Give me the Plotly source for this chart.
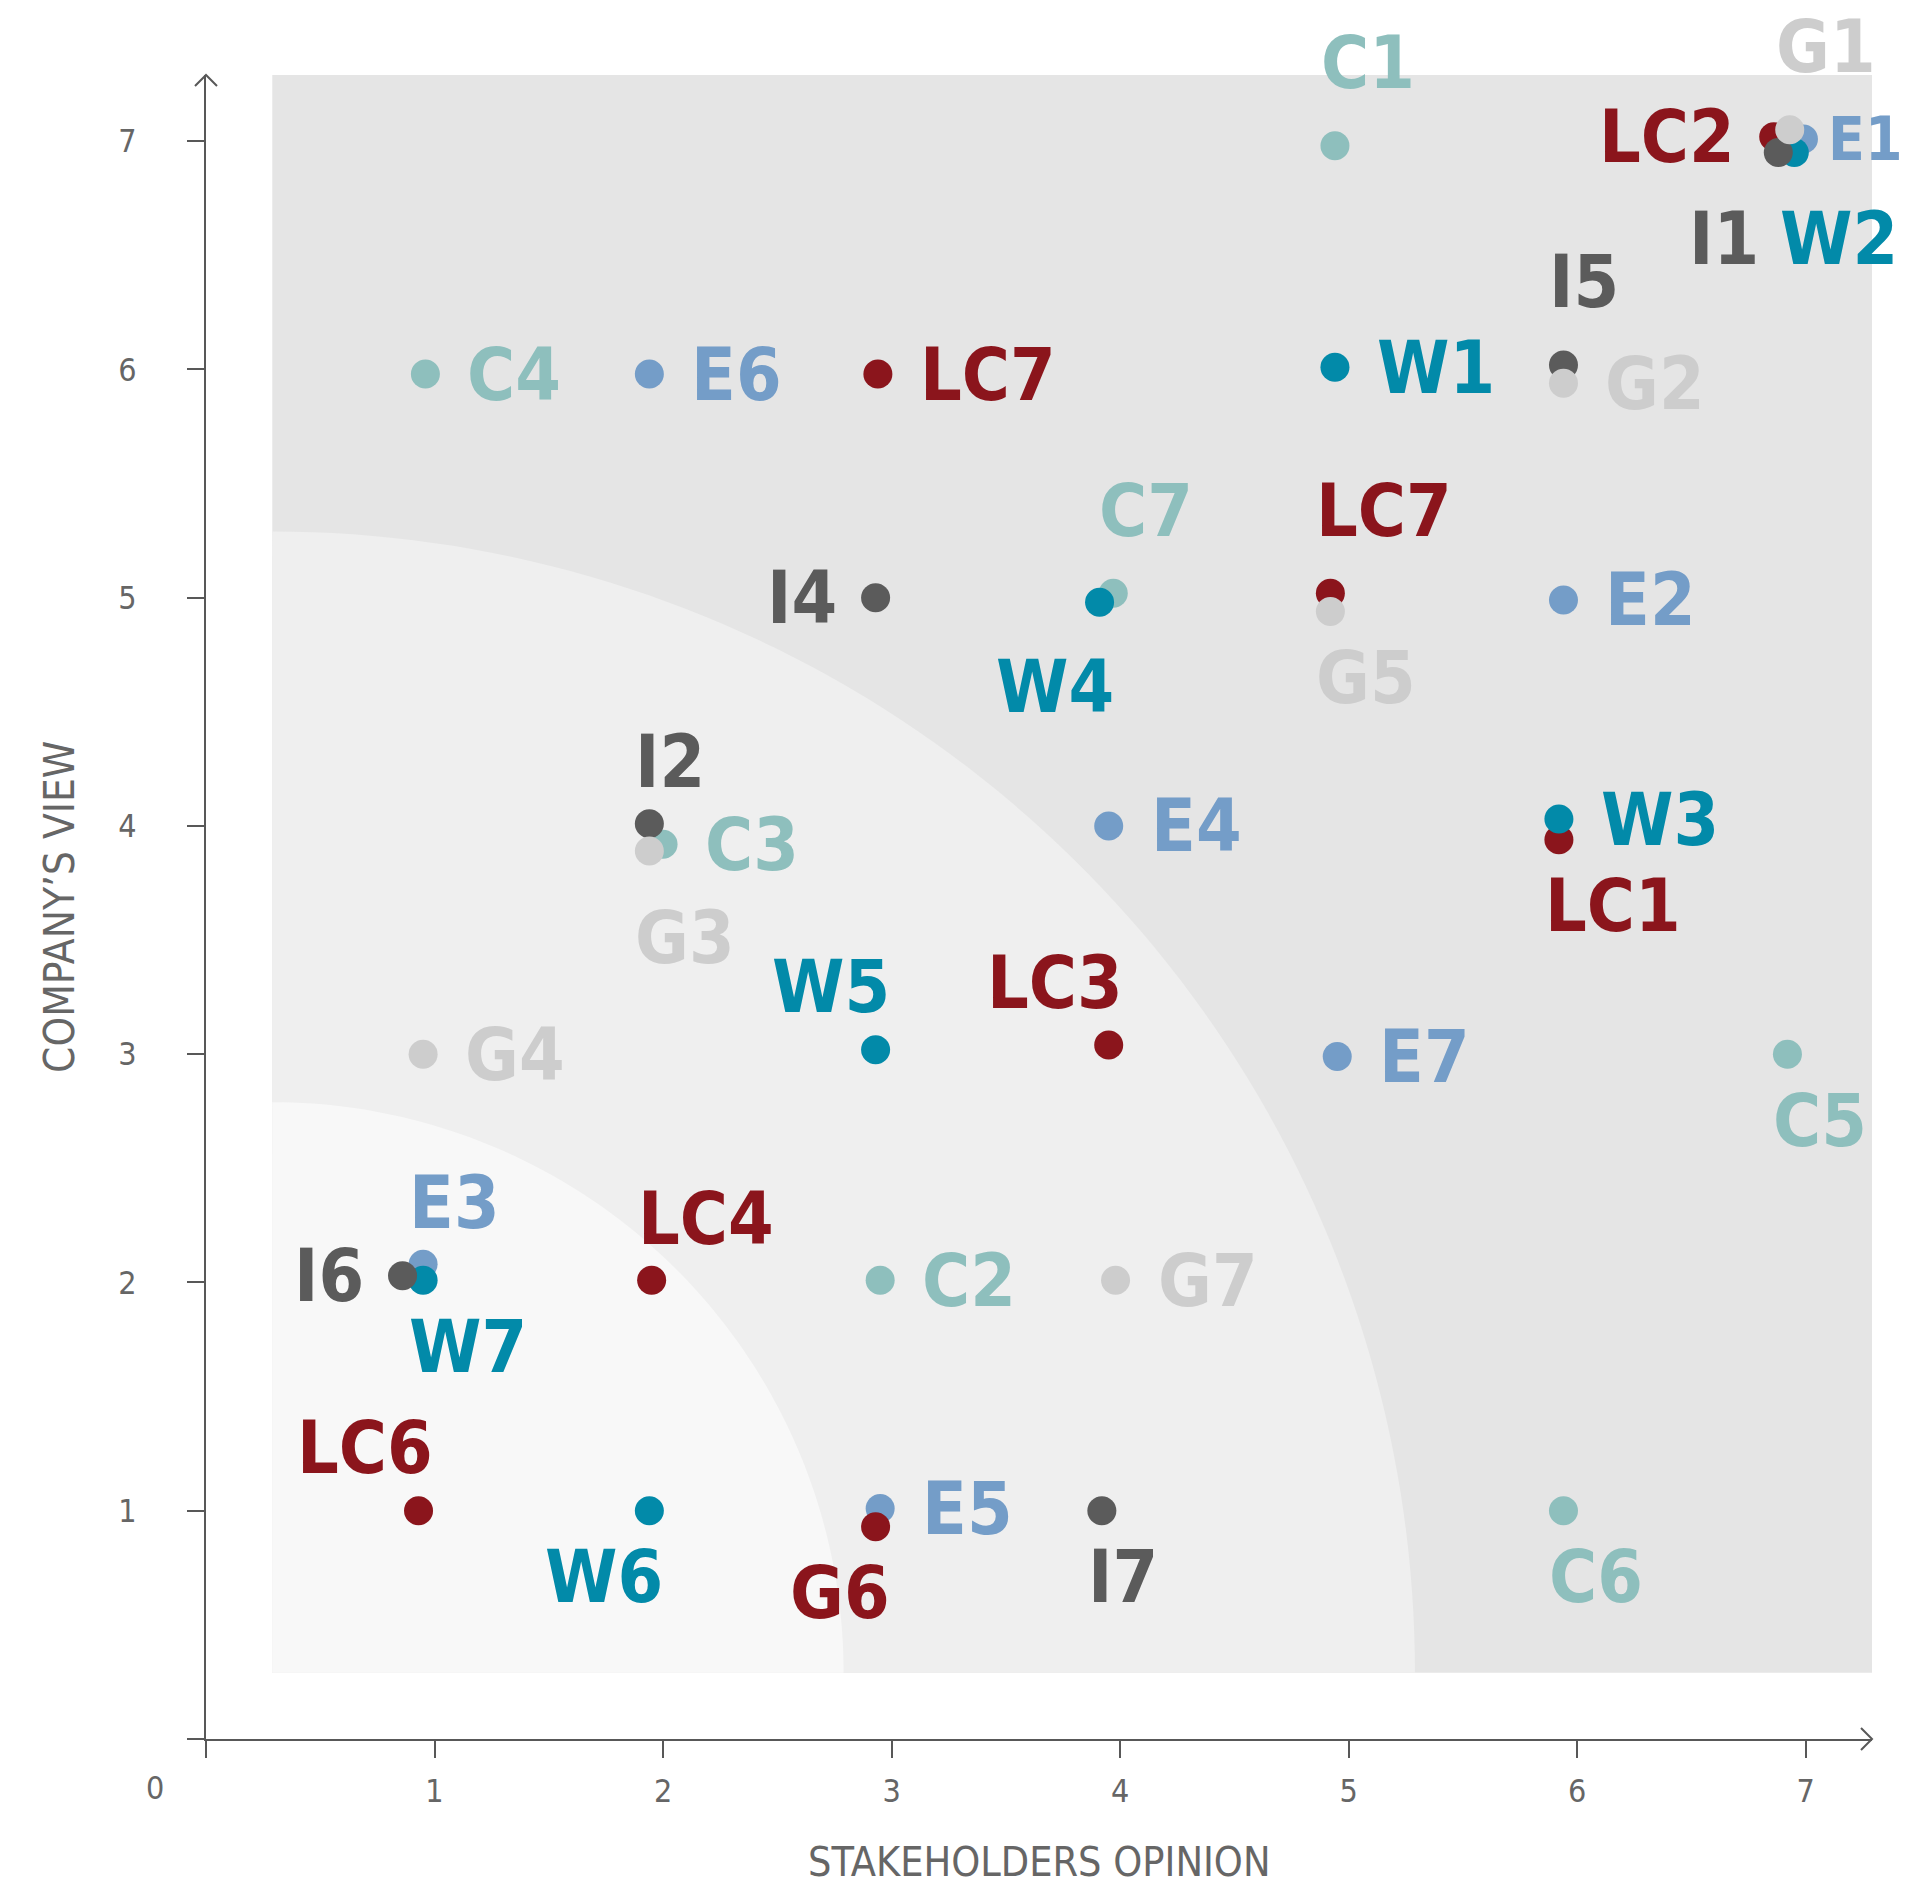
import numpy as np
import plotly.graph_objects as go

# ---------------- data ----------------
C_LABELS = ["C1", "C2", "C3", "C4", "C5", "C6", "C7"]
C_X = [4.94, 2.95, 2.00, 0.96, 6.92, 5.94, 3.97]
C_Y = [6.98, 2.01, 3.92, 5.98, 3.00, 1.00, 5.02]

E_LABELS = ["E1", "E2", "E3", "E4", "E5", "E6", "E7"]
E_X = [6.99, 5.94, 0.95, 3.95, 2.95, 1.94, 4.95]
E_Y = [7.01, 4.99, 2.08, 4.00, 1.01, 5.98, 2.99]

LC_LABELS = ["LC1", "LC2", "LC3", "LC4", "LC6", "LC7", "LC7", "G6"]
LC_X = [5.92, 6.86, 3.95, 1.95, 0.93, 2.94, 4.92, 2.93]
LC_Y = [3.94, 7.02, 3.04, 2.01, 1.00, 5.98, 5.02, 0.93]

W_LABELS = ["W1", "W2", "W3", "W4", "W5", "W6", "W7"]
W_X = [4.94, 6.95, 5.92, 3.91, 2.93, 1.94, 0.95]
W_Y = [6.01, 6.95, 4.03, 4.98, 3.02, 1.00, 2.01]

I_LABELS = ["I1", "I2", "I4", "I5", "I6", "I7"]
I_X = [6.88, 1.94, 2.93, 5.94, 0.86, 3.92]
I_Y = [6.95, 4.01, 5.00, 6.02, 2.03, 1.00]

G_LABELS = ["G1", "G2", "G3", "G4", "G5", "G7"]
G_X = [6.93, 5.94, 1.94, 0.95, 4.92, 3.98]
G_Y = [7.05, 5.94, 3.89, 3.00, 4.94, 2.01]

TICK_VALUES = [0, 1, 2, 3, 4, 5, 6, 7]
TICK_LABELS = ["", "1", "2", "3", "4", "5", "6", "7"]
X_TITLE = "STAKEHOLDERS OPINION"
Y_TITLE = "COMPANY\u2019S VIEW"
ORIGIN_LABEL = "0"

# ---------------- styling ----------------
C_POS = ["AH", "R", "R", "R", "B", "B", "AH"]
E_POS = ["RE", "R", "A", "R", "R", "R", "R"]
LC_POS = ["B", "L", "AR", "A", "AR", "R", "AH", "BR"]
W_POS = ["R", "BH", "R", "BRH", "AR", "BR", "B"]
I_POS = ["BLH", "A", "L", "AH", "L", "B"]
G_POS = ["AH", "R", "BH", "R", "B", "R"]

# placement code -> (xanchor, xshift px, yshift px, font size)
PLACE = {
    "R": ("left", 40, 0, 73),
    "RE": ("left", 23, 0, 60),   # right edge of the page
    "L": ("right", -37, 0, 73),
    "A": ("left", -16, 62, 73),
    "AH": ("left", -16, 83, 73),
    "AR": ("right", 16, 63, 73),
    "B": ("left", -16, -66, 73),
    "BH": ("left", -16, -86, 73),
    "BR": ("right", 16, -66, 73),
    "BRH": ("right", 16, -84, 73),
    "BLH": ("right", -17, -86, 73),
}

SERIES = [  # drawing order (bottom -> top)
    (C_LABELS, C_X, C_Y, C_POS, "#8ebfbd"),
    (E_LABELS, E_X, E_Y, E_POS, "#749dc8"),
    (LC_LABELS, LC_X, LC_Y, LC_POS, "#8b151c"),
    (W_LABELS, W_X, W_Y, W_POS, "#028aa9"),
    (I_LABELS, I_X, I_Y, I_POS, "#5b5b5b"),
    (G_LABELS, G_X, G_Y, G_POS, "#cdcdcd"),
]

AX_MAX = 7.29
ZONE_ORIGIN = 0.29
ZONE_RADII = [5.0, 2.5]
ZONE_COLORS = ["#efefef", "#f8f8f8"]
BG_COLOR = "#e5e5e5"
AXIS_COLOR = "#585858"
TEXT_COLOR = "#666666"
NARROW = "Liberation Sans Narrow, Arial Narrow, DejaVu Sans Condensed, sans-serif"

fig = go.Figure()

for labels, xs, ys, pos, color in SERIES:
    fig.add_trace(go.Scatter(
        x=xs, y=ys, mode="markers",
        marker=dict(size=29, color=color, line=dict(width=0)),
        cliponaxis=False, hoverinfo="skip", showlegend=False,
    ))

annotations = []
for labels, xs, ys, pos, color in SERIES:
    for lab, x, y, p in zip(labels, xs, ys, pos):
        xa, dx, dy, fs = PLACE[p]
        annotations.append(dict(
            x=x, y=y, xref="x", yref="y", text=lab, showarrow=False,
            xanchor=xa, yanchor="middle", xshift=dx, yshift=dy,
            font=dict(family=NARROW, size=fs, color=color, weight="bold"),
        ))

annotations += [
    dict(x=0, y=0, xref="x", yref="y", text=ORIGIN_LABEL, showarrow=False,
         xanchor="center", yanchor="middle", xshift=-51, yshift=-49,
         font=dict(family=NARROW, size=32, color=TEXT_COLOR)),
    dict(x=0.5, y=0, xref="paper", yref="paper", text=X_TITLE, showarrow=False,
         xanchor="center", yanchor="middle", yshift=-123,
         font=dict(family=NARROW, size=41, color=TEXT_COLOR)),
    dict(x=0, y=0.5, xref="paper", yref="paper", text=Y_TITLE, showarrow=False,
         xanchor="center", yanchor="middle", xshift=-147, textangle=-90,
         font=dict(family=NARROW, size=42, color=TEXT_COLOR)),
]

shapes = [dict(type="rect", xref="x", yref="y", x0=ZONE_ORIGIN, y0=ZONE_ORIGIN,
               x1=AX_MAX, y1=AX_MAX, fillcolor=BG_COLOR, line=dict(width=0),
               layer="below")]
ang = np.linspace(0, np.pi / 2, 90)
for r, col in zip(ZONE_RADII, ZONE_COLORS):
    pts = [(ZONE_ORIGIN, ZONE_ORIGIN)] + [
        (ZONE_ORIGIN + r * np.cos(a), ZONE_ORIGIN + r * np.sin(a)) for a in ang]
    path = "M " + " L ".join(f"{px:.4f},{py:.4f}" for px, py in pts) + " Z"
    shapes.append(dict(type="path", xref="x", yref="y", path=path,
                       fillcolor=col, line=dict(width=0), layer="below"))

# arrow heads (open chevrons) at the ends of the axes (paper refs: not clipped)
shapes.append(dict(type="path", xref="paper", yref="paper", xsizemode="pixel",
                   ysizemode="pixel", xanchor=1, yanchor=0,
                   path="M -11,11 L 0,0 L -11,-11",
                   line=dict(color=AXIS_COLOR, width=2)))
shapes.append(dict(type="path", xref="paper", yref="paper", xsizemode="pixel",
                   ysizemode="pixel", xanchor=0, yanchor=1,
                   path="M -11,-11 L 0,0 L 11,-11",
                   line=dict(color=AXIS_COLOR, width=2)))

axis_common = dict(
    range=[0, AX_MAX], showgrid=False, zeroline=False, showline=True,
    linecolor=AXIS_COLOR, linewidth=2, ticks="outside", ticklen=17,
    tickwidth=2, tickcolor=AXIS_COLOR, tickvals=TICK_VALUES,
    ticktext=TICK_LABELS, fixedrange=True,
    tickfont=dict(family=NARROW, size=32, color=TEXT_COLOR),
)

fig.update_layout(
    width=1911, height=1886,
    margin=dict(l=206, r=39, t=75, b=147),
    paper_bgcolor="white", plot_bgcolor="white",
    xaxis=dict(axis_common, ticklabelstandoff=6),
    yaxis=dict(axis_common, ticklabelstandoff=44),
    shapes=shapes, annotations=annotations,
    showlegend=False,
)

fig.write_html("out.html", config={"displayModeBar": False},
               post_script="document.body.style.margin='0';document.body.style.overflow='hidden';")
